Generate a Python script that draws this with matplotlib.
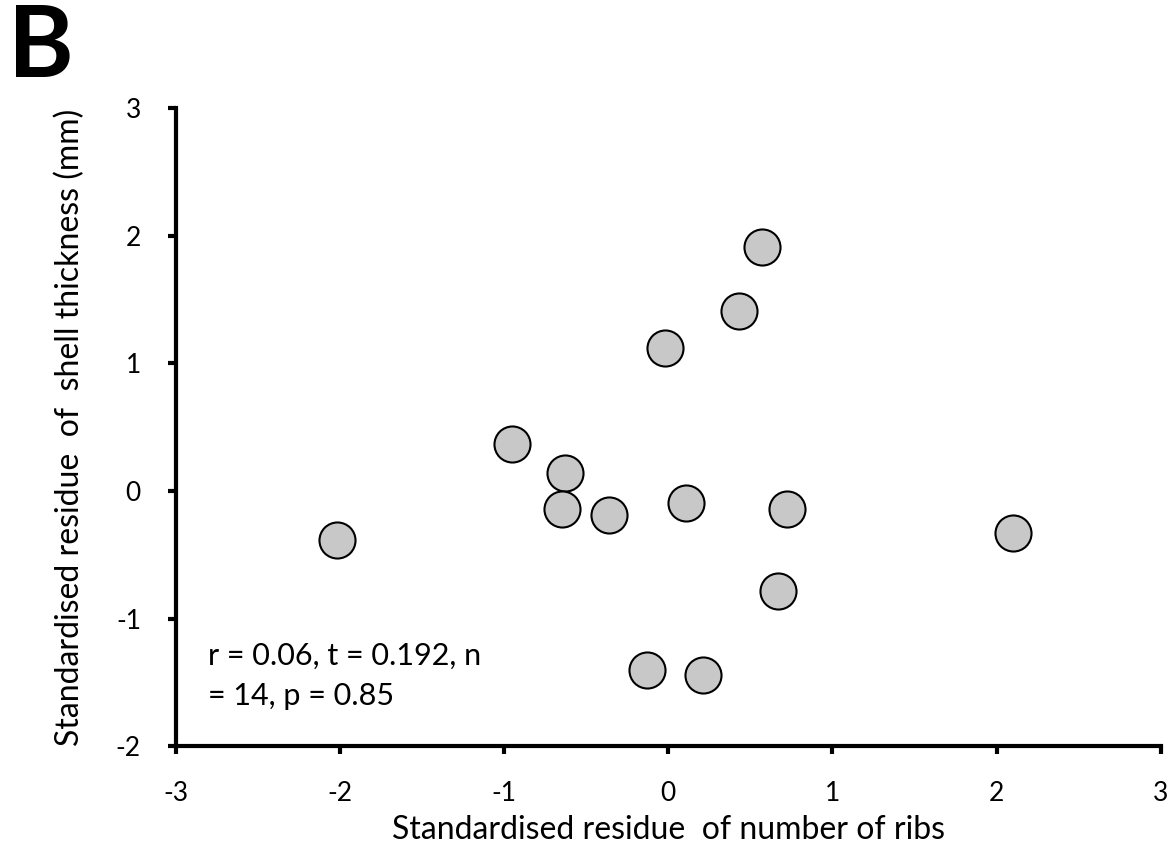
import numpy as np
import matplotlib.pyplot as plt

plt.rcParams['font.family'] = ['Lato', 'DejaVu Sans']
plt.rcParams['axes.unicode_minus'] = False

# residuos padronizados
resid_costelas = [0.57, 0.43, -0.02, -0.95, -0.63, -0.65, -0.36, 0.11, 0.72, 2.10, -2.02, 0.67, -0.13, 0.21]
resid_espessura = [1.91, 1.41, 1.12, 0.37, 0.14, -0.14, -0.19, -0.09, -0.14, -0.33, -0.38, -0.78, -1.40, -1.44]
ticks_x = [-3, -2, -1, 0, 1, 2, 3]
ticks_y = [-2, -1, 0, 1, 2, 3]

fig = plt.figure(figsize=(11.75, 8.58), dpi=100)
ax = fig.add_axes([0.1495, 0.130, 0.8385, 0.744])
ax.scatter(resid_costelas, resid_espessura, s=36**2 * 0.52, facecolor='#c8c8c8',
           edgecolor='black', linewidth=1.5, zorder=3, clip_on=False)

ax.set_xlim(-3, 3)
ax.set_ylim(-2, 3)
ax.set_xticks(ticks_x)
ax.set_yticks(ticks_y)
ax.spines['top'].set_visible(False)
ax.spines['right'].set_visible(False)
for s in ['left', 'bottom']:
    ax.spines[s].set_linewidth(3)
ax.tick_params(width=3, length=6, labelsize=19)
ax.tick_params(axis='x', pad=19)
ax.tick_params(axis='y', pad=19)

ax.set_xlabel('Standardised residue  of number of ribs', fontsize=23, labelpad=6)
ax.set_ylabel('Standardised residue  of  shell thickness (mm)', fontsize=23, labelpad=22)

ax.text(0.033, 0.164, 'r = 0.06, t = 0.192, n\n= 14, p = 0.85', transform=ax.transAxes,
        fontsize=22, ha='left', va='top', linespacing=1.52)

fig.text(0.007, 0.996, 'B', fontsize=72, fontweight='bold', ha='left', va='top')

fig.savefig('out.png', dpi=100)
